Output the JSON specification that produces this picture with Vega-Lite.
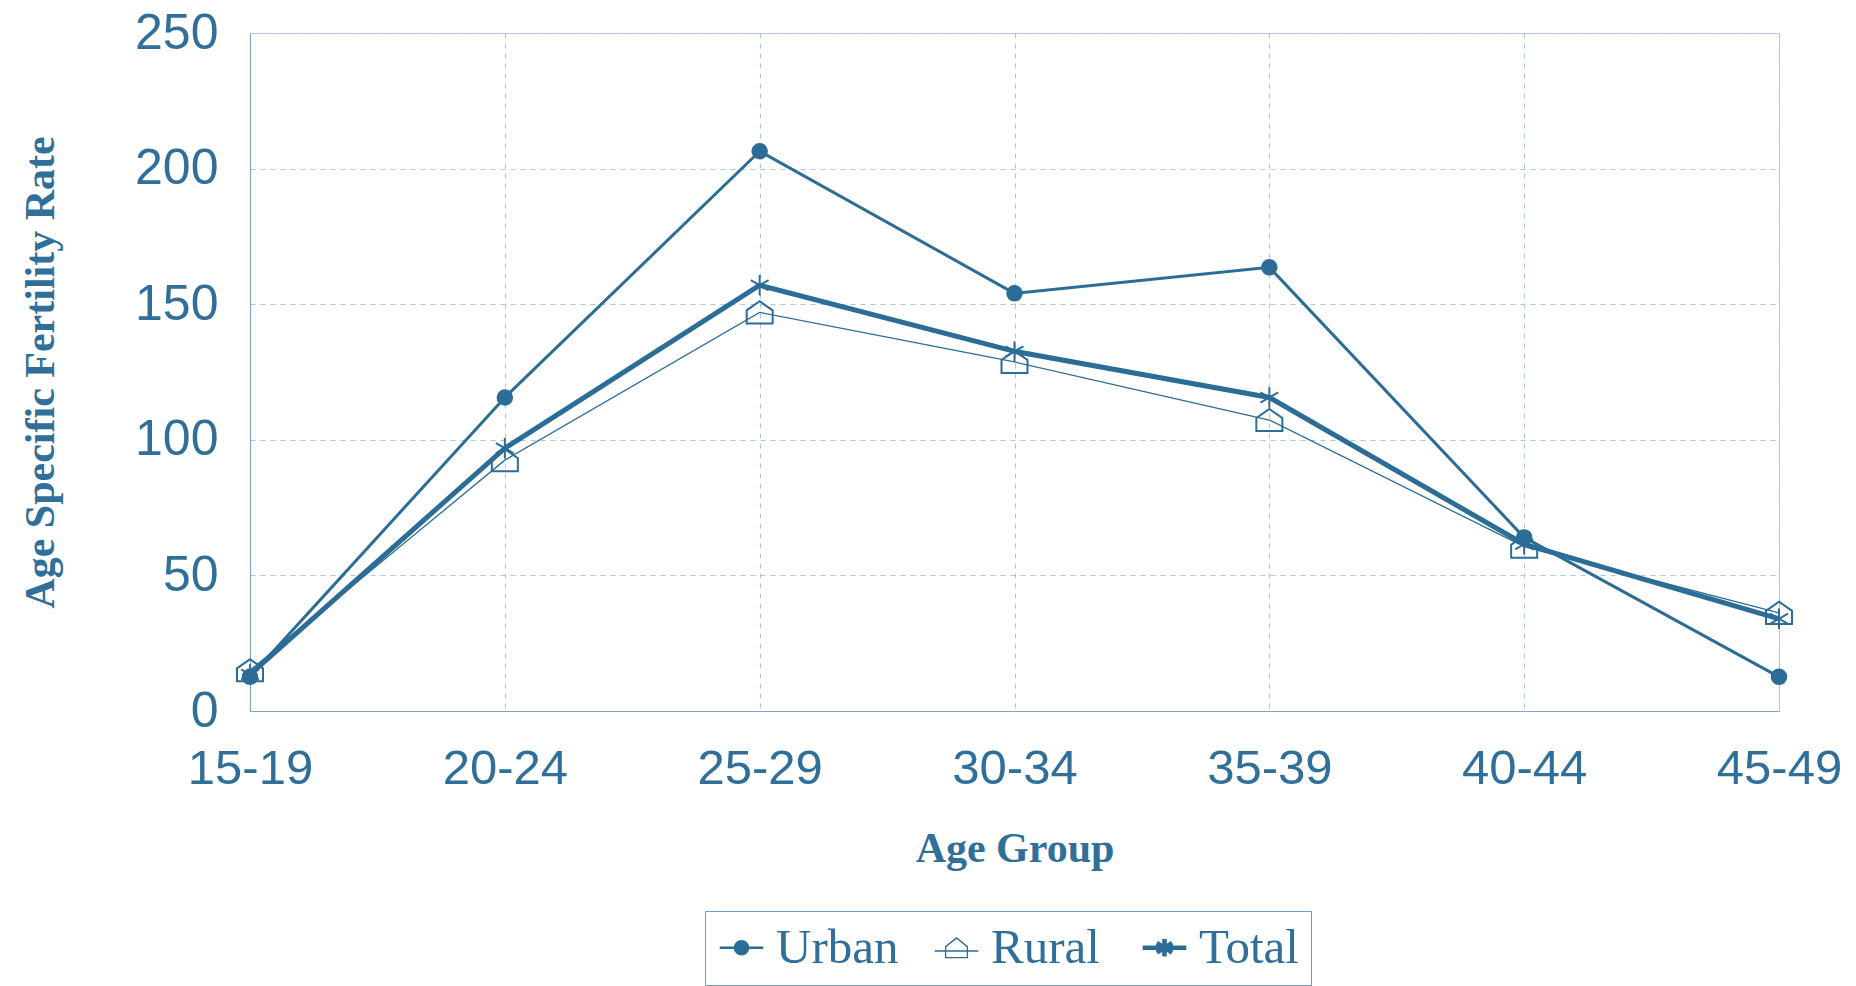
{
  "$schema": "https://vega.github.io/schema/vega-lite/v6.json",
  "width": 1529,
  "height": 678,
  "autosize": {"type": "none"},
  "padding": {"left": 250, "top": 33, "right": 77, "bottom": 275},
  "background": "white",
  "config": {
    "view": {"stroke": "#b7cde3", "strokeWidth": 1}
  },
  "data": {
    "values": [
      {"age": "15-19", "series": "Urban", "rate": 12.6},
      {"age": "20-24", "series": "Urban", "rate": 115.6},
      {"age": "25-29", "series": "Urban", "rate": 206.4},
      {"age": "30-34", "series": "Urban", "rate": 154.0},
      {"age": "35-39", "series": "Urban", "rate": 163.6},
      {"age": "40-44", "series": "Urban", "rate": 64.0},
      {"age": "45-49", "series": "Urban", "rate": 12.6},
      {"age": "15-19", "series": "Rural", "rate": 15.0},
      {"age": "20-24", "series": "Rural", "rate": 92.5},
      {"age": "25-29", "series": "Rural", "rate": 147.0},
      {"age": "30-34", "series": "Rural", "rate": 128.7},
      {"age": "35-39", "series": "Rural", "rate": 107.3},
      {"age": "40-44", "series": "Rural", "rate": 60.6},
      {"age": "45-49", "series": "Rural", "rate": 36.2},
      {"age": "15-19", "series": "Total", "rate": 13.5},
      {"age": "20-24", "series": "Total", "rate": 96.9},
      {"age": "25-29", "series": "Total", "rate": 157.0},
      {"age": "30-34", "series": "Total", "rate": 132.6},
      {"age": "35-39", "series": "Total", "rate": 115.6},
      {"age": "40-44", "series": "Total", "rate": 61.5},
      {"age": "45-49", "series": "Total", "rate": 34.0}
    ]
  },
  "encoding": {
    "x": {
      "field": "age",
      "type": "ordinal",
      "sort": ["15-19", "20-24", "25-29", "30-34", "35-39", "40-44", "45-49"],
      "scale": {"type": "point", "padding": 0},
      "axis": {
        "title": "Age Group",
        "labelAngle": 0,
        "labelFont": "Liberation Sans",
        "labelFontSize": 49,
        "labelColor": "#2f6f99",
        "labelPadding": 33,
        "ticks": false,
        "domainColor": "#7fa6c9",
        "domainWidth": 1.2,
        "grid": true,
        "gridColor": "#a8c6e8",
        "gridDash": [5, 5],
        "gridWidth": 1,
        "titleFont": "Liberation Serif",
        "titleFontWeight": "bold",
        "titleFontSize": 42,
        "titleColor": "#2f6f99",
        "titlePadding": 35
      }
    },
    "y": {
      "field": "rate",
      "type": "quantitative",
      "scale": {"domain": [0, 250], "nice": false},
      "axis": {
        "title": "Age Specific Fertility Rate",
        "values": [0, 50, 100, 150, 200, 250],
        "labelFont": "Liberation Sans",
        "labelFontSize": 50,
        "labelColor": "#2f6f99",
        "labelPadding": 32,
        "ticks": false,
        "domainColor": "#7fa6c9",
        "domainWidth": 1.2,
        "grid": true,
        "gridColor": "#a8c6e8",
        "gridDash": [5, 5],
        "gridWidth": 1,
        "titleFont": "Liberation Serif",
        "titleFontWeight": "bold",
        "titleFontSize": 42,
        "titleColor": "#2f6f99",
        "titlePadding": 72
      }
    }
  },
  "layer": [
    {
      "mark": {"type": "line", "color": "#2b6d97"},
      "encoding": {
        "detail": {"field": "series", "type": "nominal"},
        "strokeWidth": {
          "field": "series",
          "type": "nominal",
          "scale": {"type": "ordinal", "domain": ["Urban", "Rural", "Total"], "range": [3, 1.3, 5]},
          "legend": null
        }
      }
    },
    {
      "mark": {"type": "point", "filled": false, "stroke": "#2b6d97", "strokeWidth": 2, "opacity": 1},
      "encoding": {
        "shape": {
          "field": "series",
          "type": "nominal",
          "scale": {
            "domain": ["Urban", "Rural", "Total"],
            "range": [
              "circle",
              "M-1,0.85L1,0.85L1,-0.15L0,-0.85L-1,-0.15Z",
              "M0,-1L0,1M-0.87,-0.5L0.87,0.5M-0.87,0.5L0.87,-0.5"
            ]
          },
          "legend": null
        },
        "fill": {
          "field": "series",
          "type": "nominal",
          "scale": {"domain": ["Urban", "Rural", "Total"], "range": ["#2b6d97", "transparent", "transparent"]},
          "legend": null
        },
        "size": {
          "field": "series",
          "type": "nominal",
          "scale": {"type": "ordinal", "domain": ["Urban", "Rural", "Total"], "range": [210, 676, 420]},
          "legend": null
        }
      }
    },
    {
      "transform": [{"filter": "false"}],
      "mark": {"type": "point", "filled": false, "opacity": 1},
      "encoding": {
        "color": {
          "field": "series",
          "type": "nominal",
          "scale": {"domain": ["Urban", "Rural", "Total"], "range": ["#2b6d97", "#2b6d97", "#2b6d97"]},
          "legend": {
            "title": null, "orient": "none", "legendX": 455, "legendY": 878, "direction": "horizontal",
            "padding": 12, "strokeColor": "#6f9cc4", "fillColor": "white",
            "labelFont": "Liberation Serif", "labelFontSize": 49, "labelColor": "#2f6f99", "labelOffset": 10,
            "columnPadding": 33, "symbolSize": 1900, "symbolOpacity": 1, "labelLimit": 400
          }
        },
        "shape": {
          "field": "series",
          "type": "nominal",
          "scale": {
            "domain": ["Urban", "Rural", "Total"],
            "range": [
              "M-1,0H1M-0.3,0A0.3,0.3 0 1,0 0.3,0A0.3,0.3 0 1,0 -0.3,0Z",
              "M-1,0.15H1M-0.5,0.45L0.5,0.45L0.5,-0.05L0,-0.45L-0.5,-0.05Z",
              "M-1,0H1M0,-0.4L0,0.4M-0.35,-0.22L0.35,0.22M-0.35,0.22L0.35,-0.22"
            ]
          },
          "legend": {
            "title": null, "orient": "none", "legendX": 455, "legendY": 878, "direction": "horizontal",
            "padding": 12, "strokeColor": "#6f9cc4", "fillColor": "white",
            "labelFont": "Liberation Serif", "labelFontSize": 49, "labelColor": "#2f6f99", "labelOffset": 10,
            "columnPadding": 33, "symbolSize": 1900, "symbolOpacity": 1, "labelLimit": 400
          }
        },
        "fill": {
          "field": "series",
          "type": "nominal",
          "scale": {"domain": ["Urban", "Rural", "Total"], "range": ["#2b6d97", "transparent", "transparent"]},
          "legend": {
            "title": null, "orient": "none", "legendX": 455, "legendY": 878, "direction": "horizontal",
            "padding": 12, "strokeColor": "#6f9cc4", "fillColor": "white",
            "labelFont": "Liberation Serif", "labelFontSize": 49, "labelColor": "#2f6f99", "labelOffset": 10,
            "columnPadding": 33, "symbolSize": 1900, "symbolOpacity": 1, "labelLimit": 400
          }
        },
        "strokeWidth": {
          "field": "series",
          "type": "nominal",
          "scale": {"type": "ordinal", "domain": ["Urban", "Rural", "Total"], "range": [2.5, 1.3, 4.5]},
          "legend": {
            "title": null, "orient": "none", "legendX": 455, "legendY": 878, "direction": "horizontal",
            "padding": 12, "strokeColor": "#6f9cc4", "fillColor": "white",
            "labelFont": "Liberation Serif", "labelFontSize": 49, "labelColor": "#2f6f99", "labelOffset": 10,
            "columnPadding": 33, "symbolSize": 1900, "symbolOpacity": 1, "labelLimit": 400
          }
        }
      }
    }
  ],
  "resolve": {
    "scale": {"shape": "independent", "fill": "independent", "strokeWidth": "independent", "color": "independent", "size": "independent"}
  }
}
